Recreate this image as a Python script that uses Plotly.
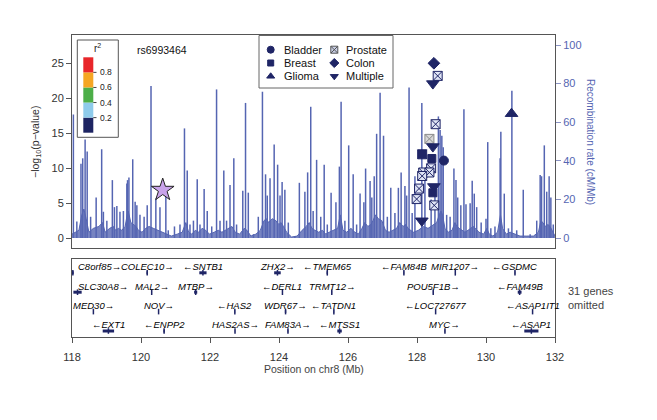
import plotly.graph_objects as go

# ---------------- data ----------------
spike_pos = [118.04,118.14,118.26,118.31,118.38,118.44,118.54,118.70,118.86,118.91,
             119.01,119.17,119.23,119.30,119.39,119.49,119.59,119.61,119.65,119.76,
             119.83,119.88,119.97,120.09,120.18,120.29,120.43,120.55,120.72,120.79,
             120.97,121.13,121.26,121.34,121.42,121.52,121.63,121.71,121.83,121.92,
             122.05,122.19,122.29,122.40,122.48,122.58,122.69,122.77,122.95,123.03,
             123.11,123.26,123.40,123.52,123.61,123.66,123.74,123.86,123.96,124.03,
             124.09,124.17,124.27,124.46,124.59,124.75,124.83,124.92,124.99,125.09,
             125.21,125.31,125.40,125.51,125.65,125.75,125.80,125.91,126.02,126.15,
             126.25,126.35,126.46,126.51,126.64,126.69,126.76,126.83,126.93,127.03,
             127.14,127.24,127.36,127.46,127.54,127.65,127.70,127.77,127.86,127.94,
             128.14,128.23,128.41,128.52,128.62,128.67,128.72,128.76,128.86,128.96,
             129.07,129.13,129.18,129.27,129.36,129.42,129.54,129.60,129.66,129.73,
             129.86,130.00,130.05,130.14,130.26,130.41,130.43,130.53,130.65,130.75,
             130.89,131.08,131.28,131.47,131.57,131.61,131.69,131.76,131.83,131.88,
             131.95]
spike_rate = [64,8.6,38.5,41.3,51,44.8,11,21,46,13.6,
              9,30,16,16.6,13.6,14,28.3,30,31.4,40.8,
              18.8,17,12,11,17,78.8,20.5,16,23,4,
              6,7,56.8,35,7,9,30.4,7,25.4,14,
              6,77,9,35,9,27.5,41.3,7,24.5,70,
              23.5,2,11,75.8,33,22,31,48.5,38,22,
              29,25,8,1,28.6,24,34,68,14,40.5,
              11,38,7,23.5,18.5,37,70.6,9,48,33,
              7,23,18.5,36,29.5,21,32,54,75.3,53,
              11,26,13,26,34,27,22,78,13,32,
              70,30,20,25,63,56,53,47,12,11,
              36,30,21,17,66.7,17.5,18,29.7,23,16,
              8,10,49.7,5,6,41.3,55,23,5,76.3,
              4,25,2,9,32.6,32,48,24,32,21,
              7]
valley_pos = [118.00,118.09,118.20,118.285,118.345,118.41,118.49,118.62,118.78,118.885,
              118.96,119.09,119.20,119.265,119.345,119.44,119.54,119.60,119.63,119.705,
              119.795,119.855,119.925,120.03,120.135,120.235,120.36,120.49,120.635,120.755,
              120.88,121.05,121.195,121.30,121.38,121.47,121.575,121.67,121.77,121.875,
              121.985,122.12,122.24,122.345,122.44,122.53,122.635,122.73,122.86,122.99,
              123.07,123.185,123.33,123.46,123.565,123.635,123.70,123.80,123.91,123.995,
              124.06,124.13,124.22,124.365,124.525,124.67,124.79,124.875,124.955,125.04,
              125.15,125.26,125.355,125.455,125.58,125.70,125.775,125.855,125.965,126.085,
              126.20,126.30,126.405,126.485,126.575,126.665,126.725,126.795,126.88,126.98,
              127.085,127.19,127.30,127.41,127.50,127.595,127.675,127.735,127.815,127.90,
              128.04,128.185,128.32,128.465,128.57,128.645,128.695,128.74,128.81,128.91,
              129.015,129.10,129.155,129.225,129.315,129.39,129.48,129.57,129.63,129.695,
              129.795,129.93,130.025,130.095,130.20,130.335,130.42,130.48,130.59,130.70,
              130.82,130.985,131.18,131.375,131.52,131.59,131.65,131.725,131.795,131.855,
              131.915,132.00]
valley_rate = [2,3,4,12,15,10,3,5,6,8,
               3,5,6,4,5,4,6,12,14,8,
               7,6,4,3,5,6,5,4,3,2,
               1,2,3,8,3,2,4,3,5,4,
               2,3,4,3,4,5,6,3,2,5,
               4,1,2,4,9,10,8,10,9,7,
               8,6,3,0.5,1,4,6,8,5,4,
               3,4,2,3,4,5,12,4,3,5,
               3,2,5,8,6,7,9,12,10,9,
               4,3,4,5,8,6,7,5,4,3,
               4,6,5,7,8,12,14,12,5,3,
               4,8,6,5,4,3,4,5,6,5,
               3,2,5,2,1,3,12,5,2,3,
               2,1,1,1,3,9,8,6,7,6,
               4,1]

# SNPs: position (Mb), -log10(p), study type, fill colour class
snp_pos  = [128.49,128.60,128.46,128.54,128.36,128.46,128.15,128.43,128.78,128.41,
            128.18,128.36,128.15,128.49,128.46,128.06,127.99,128.50,128.14,130.74]
snp_logp = [25.0,23.2,22.1,16.3,14.2,13.1,12.0,11.4,11.1,10.0,
            9.4,9.4,8.9,7.4,6.5,7.1,5.6,4.7,2.5,17.8]
snp_type = ["Colon","Prostate","Multiple","Prostate","Prostate","Multiple","Prostate","Breast","Bladder","Prostate",
            "Prostate","Prostate","Prostate","Multiple","Breast","Prostate","Prostate","Prostate","Multiple","Glioma"]
snp_shade = ["dark","light","dark","light","gray","dark","dark","dark","dark","light",
             "light","light","light","dark","dark","light","light","light","dark","dark"]

lead_snp = "rs6993464"
lead_pos = [120.63]
lead_logp = [6.9]

gene_names  = ["C8orf85","COLEC10","SNTB1","ZHX2","TMEM65","FAM84B","MIR1207","GSDMC",
               "SLC30A8","MAL2","MTBP","DERL1","TRMT12","POU5F1B","FAM49B",
               "MED30","NOV","HAS2","WDR67","TATDN1","LOC727677","ASAP1IT1",
               "EXT1","ENPP2","HAS2AS","FAM83A","MTSS1","MYC","ASAP1"]
gene_start  = [118.00,120.16,121.69,123.86,125.38,127.61,129.10,130.83,
               118.04,120.30,121.54,124.09,125.52,128.46,130.92,
               118.61,120.50,122.71,124.17,125.58,128.53,131.34,
               118.89,120.65,122.72,124.25,125.69,128.80,131.11]
gene_end    = [118.05,120.20,121.90,124.05,125.42,127.63,129.12,130.85,
               118.28,120.32,121.63,124.11,125.54,128.48,131.03,
               118.63,120.52,122.73,124.21,125.60,128.55,131.36,
               119.22,120.69,122.73,124.27,125.82,128.82,131.52]
gene_row    = [0,0,0,0,0,0,0,0,
               1,1,1,1,1,1,1,
               2,2,2,2,2,2,2,
               3,3,3,3,3,3,3]
gene_strand = [1,1,-1,1,-1,-1,1,-1,
               1,1,1,-1,1,1,-1,
               1,1,-1,1,-1,-1,-1,
               -1,-1,1,1,-1,1,-1]

left_ticks = [0, 5, 10, 15, 20, 25]
right_ticks = [0, 20, 40, 60, 80, 100]
x_ticks = [118, 120, 122, 124, 126, 128, 130, 132]
r2_breaks = [0.0, 0.2, 0.4, 0.6, 0.8, 1.0]
r2_colors = ["#1d2462", "#8ecbeb", "#4cae48", "#f5a623", "#e8262a"]
legend_types = [["Bladder", "Prostate"], ["Breast", "Colon"], ["Glioma", "Multiple"]]

# ---------------- styles ----------------
W, H = 657, 420
OFF = 8  # page body margin of the browser
FONT = "Liberation Sans, Arial, sans-serif"
NAVY = "#1f2566"
REC = "#5565b2"
symbol_of = {"Bladder": "circle", "Breast": "square", "Glioma": "triangle-up",
             "Prostate": "square-x", "Colon": "diamond", "Multiple": "triangle-down"}
size_of = {"Bladder": 9, "Breast": 8, "Glioma": 11, "Prostate": 9, "Colon": 9, "Multiple": 11}
shade_fill = {"dark": NAVY, "light": "#dfe4f5", "gray": "#d8d8d8"}
shade_line = {"dark": NAVY, "light": NAVY, "gray": "#8a8a8a"}

def px(x):
    return (x - OFF) / W

def py(y):
    return 1 - (y - OFF) / H

X0, X1 = 72, 555
TOP0, TOP1 = 35, 248
GEN0, GEN1 = 259, 337

fig = go.Figure()

# recombination rate: dense low background profile + spikes as thin stems
fig.add_trace(go.Scatter(x=valley_pos, y=valley_rate, mode="lines",
                         line=dict(color=REC, width=1), fill="tozeroy",
                         fillcolor="rgba(85,101,178,0.8)",
                         xaxis="x", yaxis="y", hoverinfo="skip", showlegend=False))
sx, sy = [], []
for p, r in zip(spike_pos, spike_rate):
    sx += [p, p, None]
    sy += [0, r, None]
fig.add_trace(go.Scatter(x=sx, y=sy, mode="lines", line=dict(color=REC, width=1.5),
                         xaxis="x", yaxis="y", hoverinfo="skip", showlegend=False))

# SNP markers
for i in range(len(snp_pos)):
    t = snp_type[i]
    s = snp_shade[i]
    fig.add_trace(go.Scatter(
        x=[snp_pos[i]], y=[snp_logp[i]], mode="markers", xaxis="x", yaxis="y2",
        marker=dict(symbol=symbol_of[t], size=size_of[t],
                    color=shade_fill[s] if t == "Prostate" else NAVY,
                    line=dict(color=shade_line[s] if t == "Prostate" else NAVY, width=1)),
        showlegend=False, hoverinfo="skip"))

fig.add_trace(go.Scatter(x=lead_pos, y=lead_logp, mode="markers", xaxis="x", yaxis="y2",
                         marker=dict(symbol="star", size=17, color="#c9a3ea",
                                     line=dict(color="#222222", width=1)),
                         showlegend=False, hoverinfo="skip"))

# genes
def label_y(r):
    return 78 - (7.7 + 19.4 * r)

def mark_y(r):
    return 78 - (13.8 + 19.4 * r)

gx, gy = [], []
for i in range(len(gene_names)):
    gx += [gene_start[i], gene_end[i], None]
    gy += [mark_y(gene_row[i])] * 2 + [None]
fig.add_trace(go.Scatter(x=gx, y=gy, mode="lines", line=dict(color=NAVY, width=3),
                         xaxis="x2", yaxis="y3", hoverinfo="skip", showlegend=False))
fig.add_trace(go.Scatter(x=[(a + b) / 2 for a, b in zip(gene_start, gene_end)],
                         y=[mark_y(r) for r in gene_row], mode="markers",
                         marker=dict(symbol="line-ns", size=4, line=dict(color=NAVY, width=1.5)),
                         xaxis="x2", yaxis="y3", hoverinfo="skip", showlegend=False))

annotations = []
for i, name in enumerate(gene_names):
    txt = f"<i>{name}</i>→" if gene_strand[i] > 0 else f"←<i>{name}</i>"
    c = (gene_start[i] + gene_end[i]) / 2
    left = c < 118.5
    annotations.append(dict(x=118.12 if left else c, y=label_y(gene_row[i]), xref="x2", yref="y3",
                            text=txt, showarrow=False, xanchor="left" if left else "center",
                            yanchor="middle",
                            font=dict(size=9.5, color="#000", family=FONT)))

# legend of study types (drawn in pixel overlay)
lx = [(270.7, 281.7), (334.3, 344.3)]
ly = [49.7, 63.0, 76.3]
for r, row in enumerate(legend_types):
    for c, t in enumerate(row):
        fill = "#c9cfe6" if t == "Prostate" else NAVY
        fig.add_trace(go.Scatter(x=[lx[c][0] - OFF], y=[ly[r] - OFF], mode="markers",
                                 xaxis="x4", yaxis="y4",
                                 marker=dict(symbol=symbol_of[t], size=7 if t != "Breast" else 6,
                                             color=fill, line=dict(color=NAVY if t != "Prostate" else "#555", width=1)),
                                 hoverinfo="skip", showlegend=False))
        annotations.append(dict(x=px(lx[c][1]), y=py(ly[r]), xref="paper", yref="paper",
                                text=t, showarrow=False, xanchor="left", yanchor="middle",
                                font=dict(size=11, color="#111", family=FONT)))

shapes = [dict(type="rect", xref="paper", yref="paper", x0=px(259), x1=px(393),
               y0=py(88), y1=py(35.5), line=dict(color="#666", width=1), fillcolor="white",
               layer="below")]

# r2 colour key
shapes.append(dict(type="rect", xref="paper", yref="paper", x0=px(77.3), x1=px(118.3),
                   y0=py(137.3), y1=py(40), line=dict(color="#555", width=1), fillcolor="white",
                   layer="above"))
bar_top, bar_bot = 57.3, 132.7
for k, col in enumerate(r2_colors):
    yb = bar_bot - (bar_bot - bar_top) * r2_breaks[k]
    yt = bar_bot - (bar_bot - bar_top) * r2_breaks[k + 1]
    shapes.append(dict(type="rect", xref="paper", yref="paper", x0=px(83.3), x1=px(93.3),
                       y0=py(yb), y1=py(yt), line=dict(width=0), fillcolor=col, layer="above"))
for v in r2_breaks[1:-1]:
    yv = bar_bot - (bar_bot - bar_top) * v
    shapes.append(dict(type="line", xref="paper", yref="paper", x0=px(93.3), x1=px(96.5),
                       y0=py(yv), y1=py(yv), line=dict(color="#444", width=1), layer="above"))
    annotations.append(dict(x=px(98), y=py(yv), xref="paper", yref="paper", text=f"{v:.1f}",
                            showarrow=False, xanchor="left", yanchor="middle",
                            font=dict(size=8.5, color="#222", family=FONT)))
annotations.append(dict(x=px(97), y=py(48.5), xref="paper", yref="paper", text="r<sup>2</sup>",
                        showarrow=False, xanchor="center", yanchor="middle",
                        font=dict(size=10, color="#222", family=FONT)))

annotations.append(dict(x=px(162), y=py(50.5), xref="paper", yref="paper", text=lead_snp,
                        showarrow=False, xanchor="center", yanchor="middle",
                        font=dict(size=10.5, color="#111", family=FONT)))

# axis titles and notes
annotations.append(dict(x=px(36), y=py(142), xref="paper", yref="paper",
                        text="−log<sub>10</sub>(p−value)", textangle=-90, showarrow=False,
                        xanchor="center", yanchor="middle",
                        font=dict(size=10.5, color="#333", family=FONT)))
annotations.append(dict(x=px(591), y=py(142), xref="paper", yref="paper",
                        text="Recombination rate (cM/Mb)", textangle=90, showarrow=False,
                        xanchor="center", yanchor="middle",
                        font=dict(size=10, color=REC, family=FONT)))
annotations.append(dict(x=px(314), y=py(369), xref="paper", yref="paper",
                        text="Position on chr8 (Mb)", showarrow=False,
                        xanchor="center", yanchor="middle",
                        font=dict(size=10.5, color="#444", family=FONT)))
annotations.append(dict(x=px(566), y=py(298), xref="paper", yref="paper",
                        text="31 genes<br>omitted", showarrow=False, xanchor="left", yanchor="middle",
                        align="left", font=dict(size=11, color="#444", family=FONT)))

dx = [px(X0), px(X1)]
fig.update_layout(
    width=W, height=H, margin=dict(l=0, r=0, t=0, b=0, autoexpand=False),
    paper_bgcolor="white", plot_bgcolor="rgba(0,0,0,0)",
    font=dict(family=FONT, size=11, color="#333"),
    showlegend=False,
    xaxis=dict(domain=dx, range=[118, 132], anchor="y", showticklabels=False, ticks="",
               showline=True, mirror=True, linecolor="#555", linewidth=1,
               showgrid=False, zeroline=False, automargin=False),
    yaxis=dict(domain=[py(TOP1), py(TOP0)], range=[-5.18, 105.2], side="right", anchor="x",
               tickvals=right_ticks, ticks="outside", ticklen=5, tickcolor="#8a93c4",
               tickfont=dict(color=REC, size=11), showline=True, linecolor="#555",
               showgrid=False, zeroline=False, automargin=False),
    yaxis2=dict(overlaying="y", side="left", anchor="x", range=[-1.386, 29.04],
                tickvals=left_ticks, ticks="outside", ticklen=5, tickcolor="#555",
                tickfont=dict(color="#333", size=11), showline=True, linecolor="#555",
                showgrid=False, zeroline=False, automargin=False),
    xaxis2=dict(domain=dx, range=[118, 132], anchor="y3", tickvals=x_ticks,
                ticks="outside", ticklen=5, tickcolor="#555", tickfont=dict(size=11, color="#333"),
                ticklabelstandoff=5,
                showline=True, mirror=True, linecolor="#555", showgrid=False, zeroline=False,
                automargin=False),
    yaxis3=dict(domain=[py(GEN1), py(GEN0)], range=[0, 78], anchor="x2",
                showticklabels=False, ticks="", showline=True, mirror=True, linecolor="#555",
                showgrid=False, zeroline=False, automargin=False),
    xaxis4=dict(domain=[0, 1], range=[0, W], anchor="y4", visible=False, fixedrange=True,
                automargin=False),
    yaxis4=dict(domain=[0, 1], range=[H, 0], anchor="x4", visible=False, fixedrange=True,
                automargin=False),
    shapes=shapes, annotations=annotations,
)

fig.write_html("out.html")
